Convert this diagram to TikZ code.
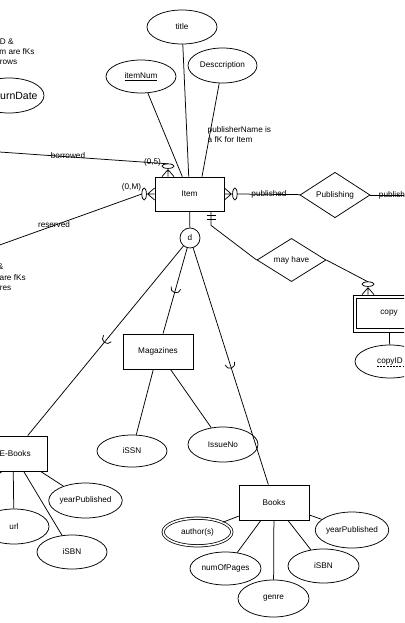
\documentclass[tikz,border=0pt]{standalone}
\usepackage{fontspec}
\setmainfont{Liberation Sans}
\usetikzlibrary{shapes.geometric,decorations.markings,calc}
\tikzset{
  txt/.style={font=\fontsize{8.2}{10}\selectfont},
  base/.style={txt, line width=0.75pt, inner sep=0pt},
  attr/.style={base, draw, ellipse, minimum width=70pt, minimum height=34pt},
  ent/.style={base, draw, rectangle, minimum width=69pt, minimum height=34pt},
  rel/.style={base, draw, diamond, minimum width=70pt, minimum height=34pt},
  lbl/.style={txt, inner sep=0pt},
  conn/.style={line width=0.75pt},
  subsetmark/.style={postaction={decorate}, decoration={markings,
      mark=at position 0.5 with {\draw[line width=0.75pt] (-3,5) arc[start angle=90,end angle=-90,radius=5];}}},
  zeromany/.pic={
    \draw[line width=0.75pt] (-7,0) -- (0,-6) (-7,0) -- (0,0) (-7,0) -- (0,6);
    \draw[line width=0.75pt] (-10.5,0) ellipse [x radius=2.3, y radius=6];
    \coordinate (-end) at (-12.8,0);
  },
}
\begin{document}
\begin{tikzpicture}[x=1pt,y=-1pt]
\useasboundingbox (0,0) rectangle (404,623);
\fill[white] (0,0) rectangle (404,623);
\clip (0,0) rectangle (404,623);

% attributes of Item
\node[attr] (title) at (182,27) {title};
\node[attr, minimum height=33pt] (itemnum) at (141,76.5) {\underline{itemNum}};
\node[attr, minimum width=69pt, minimum height=35pt] (desc) at (222.5,65.5) {Desccription};
\node[attr, minimum height=35pt] (retdate) at (9,95.5) {};
\node[lbl, font=\fontsize{10.5}{12}\selectfont, anchor=west] (retlbl) at (0,95.5) {urnDate};

% notes
\node[lbl, anchor=west] (n1a) at (-0.3,42) {D \&};
\node[lbl, anchor=west] (n1b) at (-0.8,52) {m are fKs};
\node[lbl, anchor=west] (n1c) at (-0.3,62) {rows};
\node[lbl, anchor=east] (n2a) at (3.5,267) {\&};
\node[lbl, anchor=west] (n2b) at (-0.5,278) {are fKs};
\node[lbl, anchor=west] (n2c) at (-0.3,288) {res};
\node[lbl, anchor=north west, align=left] (n3) at (207.5,126) {publisherName is\\a fK for Item};

% main entity
\node[ent] (item) at (189.5,194) {Item};
\node[rel] (pub) at (335,195) {Publishing};
\node[rel, minimum width=69pt] (mayhave) at (291.5,260) {may have};
\node[ent, minimum width=72pt, minimum height=37pt] (copy) at (389,313.5) {copy};
\draw[conn] ([xshift=4pt,yshift=-4pt]copy.north west) rectangle ([xshift=-4pt,yshift=4pt]copy.south east);
\node[attr, minimum height=33pt] (copyid) at (390,361.5) {copyID};
\draw[dashed, line width=0.5pt, dash pattern=on 2pt off 1.2pt] ([xshift=-13pt,yshift=-4.6pt]copyid.center) coordinate (cu1) -- ([xshift=13pt,yshift=-4.6pt]copyid.center) coordinate (cu2);

% attribute connectors
\draw[conn] (itemnum) -- (item);
\draw[conn] (title) -- (item);
\draw[conn] (desc) -- ([xshift=12.5pt]item.north);
\draw[conn] (copy) -- (copyid);

% cardinality markers
\pic (zmL) at (item.west) {zeromany};
\pic[rotate=180] (zmR) at (item.east) {zeromany};
\pic[rotate=-90] (zmT) at ([xshift=-21.5pt]item.north) {zeromany};
\pic[rotate=-90] (zmC) at ([xshift=-21pt]copy.north) {zeromany};

% relationship lines
\coordinate (bL) at (-2,151.9);
\coordinate (rL) at (-2,245.6);
\coordinate (pR) at (420,195);
\draw[conn] (bL) -- (zmT-end);
\draw[conn] (rL) -- (zmL-end);
\draw[conn] (zmR-end) -- (pub);
\draw[conn] (pub) -- (pR);
\node[lbl] (lb1) at (68,155.5) {borrowed};
\node[lbl] (lb2) at (54,225) {reserved};
\node[lbl] (lb3) at (269,194) {published};
\node[lbl] (lb4) at (396.5,195.5) {published};
\node[lbl] (lb5) at (152.5,162) {(0,5)};
\node[lbl] (lb6) at (131.5,187) {(0,M)};

% item -- may have -- copy
\draw[conn] ([xshift=21.5pt]item.south) -- ++(0,14) coordinate (mk) -- (mayhave.west);
\draw[conn] ([xshift=17pt,yshift=-4pt]item.south) -- ++(9.3,0);
\draw[conn] ([xshift=17pt,yshift=-8pt]item.south) -- ++(9.3,0);
\draw[conn] (mayhave.east) -- (zmC-end);

% specialization
\node[base, draw, circle, minimum size=20pt] (d) at (190,238) {d};
\draw[conn] (item) -- (d);
\node[ent, minimum width=70pt, minimum height=35pt] (mag) at (158,351.5) {Magazines};
\node[ent, minimum height=35pt] (ebooks) at (13,453.5) {};
\node[lbl, anchor=west] (eblbl) at (-0.5,453.5) {E-Books};
\node[ent, minimum width=70pt, minimum height=35pt] (books) at (274,502.5) {Books};
\draw[conn, subsetmark] (d) -- (ebooks);
\draw[conn, subsetmark] (d) -- (mag);
\draw[conn, subsetmark] (d) -- (books);

% Magazines attributes
\node[attr, minimum height=32pt] (issn) at (132,451) {iSSN};
\node[attr, minimum height=35pt] (issue) at (223,444.5) {IssueNo};
\draw[conn] (mag) -- (issn);
\draw[conn] (mag) -- (issue);

% E-Books attributes
\node[attr, minimum width=71pt, minimum height=35pt] (eyear) at (85.5,500.5) {yearPublished};
\node[attr, minimum height=35pt] (url) at (14,526.5) {url};
\node[attr] (eisbn) at (72,552) {iSBN};
\coordinate (eoff) at (-8,480);
\draw[conn] (ebooks) -- (eyear);
\draw[conn] (ebooks) -- (url);
\draw[conn] (ebooks) -- (eisbn);
\draw[conn] ([xshift=-11pt]ebooks.south) -- (eoff);

% Books attributes
\node[base, draw, ellipse, double, double distance=1.6pt, minimum width=68.6pt, minimum height=27.6pt] (author) at (197.5,532) {author(s)};
\node[attr, minimum width=71pt, minimum height=33pt] (pages) at (225.5,568.5) {numOfPages};
\node[attr, minimum width=71pt, minimum height=37pt] (genre) at (273.5,598.5) {genre};
\node[attr, minimum width=71pt] (bisbn) at (323.5,566) {iSBN};
\node[attr, minimum height=36pt] (byear) at (352,530) {yearPublished};
\draw[conn] (books) -- (author);
\draw[conn] (books) -- (pages);
\draw[conn] (books) -- (genre);
\draw[conn] (books) -- (bisbn);
\draw[conn] (books) -- (byear);
\end{tikzpicture}
\end{document}
